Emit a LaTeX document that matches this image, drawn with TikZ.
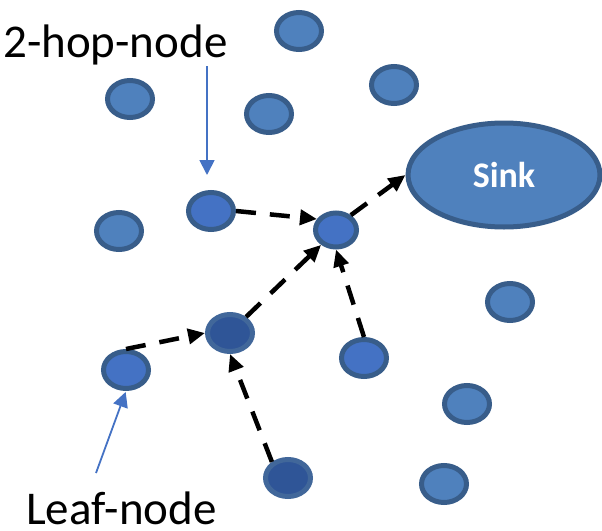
\documentclass[tikz,border=0pt]{standalone}
\usepackage{fontspec}
\setmainfont{Carlito}
\usetikzlibrary{shapes.geometric}
\usetikzlibrary{arrows.meta}

\definecolor{nodefill}{HTML}{4F81BD}
\definecolor{nodeline}{HTML}{385D8A}
\definecolor{brightfill}{HTML}{4472C4}
\definecolor{darkfill}{HTML}{2F5597}
\definecolor{darkline}{HTML}{41679A}
\definecolor{pointblue}{HTML}{4472C4}

\tikzset{
    sensor/.style={ellipse, draw=nodeline, fill=nodefill, line width=5pt,
        inner sep=0pt, minimum width=45pt, minimum height=37pt},
    brightsensor/.style={sensor, fill=brightfill},
    darksensor/.style={sensor, fill=darkfill, draw=darkline},
    sinknode/.style={ellipse, draw=nodeline, fill=nodefill, line width=5pt,
        inner sep=0pt, minimum width=192pt, minimum height=104pt,
        text=white, font=\fontsize{36}{40}\selectfont\bfseries},
    hop/.style={-{Triangle[length=17pt,width=15pt]}, line width=4.5pt,
        dash pattern=on 20pt off 14pt},
    pointer/.style={-{Triangle[length=15pt,width=15pt]}, pointblue, line width=1.8pt},
    labeltext/.style={font=\fontsize{47}{56}\selectfont, inner sep=0pt}
}

\begin{document}
\begin{tikzpicture}[x=1pt, y=-1pt]
            \useasboundingbox (0,0) rectangle (602,530);

            % other sensors
            \node[sensor] (n1) at (299,31) {};
            \node[sensor] (n2) at (130,99) {};
            \node[sensor] (n3) at (269,114) {};
            \node[sensor] (n4) at (394,85) {};
            \node[sensor] (n5) at (119,231) {};
            \node[sensor] (n6) at (510,302) {};
            \node[sensor] (n7) at (467,404) {};
            \node[sensor] (n8) at (444,484) {};

            % sensors on the tree
            \node[brightsensor] (twohop) at (211,211) {};
            \node[brightsensor, minimum width=41pt, minimum height=34pt] (relay) at (336,230) {};
            \node[brightsensor] (leaf) at (126,370) {};
            \node[brightsensor] (right) at (364,358) {};
            \node[darksensor] (mid) at (230,333) {};
            \node[darksensor] (bottom) at (288,478) {};

            % sink
            \node[sinknode] (sink) at (504,175) {Sink};

            % hops to the sink
            \draw[hop] (leaf.north) -- (mid.west);
            \draw[hop] (bottom.135) -- (mid.south);
            \draw[hop] (mid.45) -- (relay.225);
            \draw[hop] (twohop.east) -- (relay.150);
            \draw[hop] (right.north) -- (relay.south);
            \draw[hop] (relay.45) -- (sink.west);

            % labels
            \node[labeltext, anchor=base west] (hoplabel) at (3,57) {2-hop-node};
            \node[labeltext, anchor=base west] (leaflabel) at (26,524) {Leaf-node};
            \coordinate (hoptail) at (207,66);
            \coordinate (leaftail) at (96,473);
            \draw[pointer, shorten >=15pt] (hoptail) -- (hoptail |- twohop.north);
            \draw[pointer, shorten >=1pt] (leaftail) -- (leaf.south);
        \end{tikzpicture}
\end{document}
